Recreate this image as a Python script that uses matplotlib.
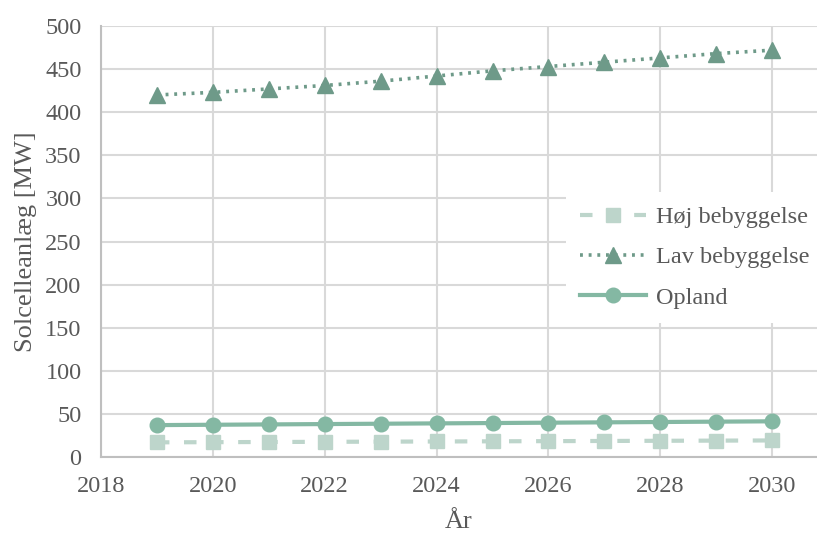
import matplotlib
matplotlib.use("Agg")
import matplotlib.pyplot as plt

years = [2019, 2020, 2021, 2022, 2023, 2024, 2025, 2026, 2027, 2028, 2029, 2030]
hoej = [17, 17.2, 17.4, 17.6, 17.8, 18.0, 18.2, 18.4, 18.6, 18.8, 19.0, 19.2]
lav = [420, 423, 427, 431, 436, 442, 448, 453, 458, 463, 468, 472]
opland = [37, 37.4, 37.8, 38.2, 38.6, 39.0, 39.4, 39.8, 40.2, 40.6, 41.0, 41.4]

x_ticks = [2018, 2020, 2022, 2024, 2026, 2028, 2030]
y_ticks = list(range(0, 501, 50))

text_color = "#595959"
grid_color = "#d9d9d9"

plt.rcParams["font.family"] = ["Liberation Serif", "DejaVu Serif"]

fig = plt.figure(figsize=(8.17, 5.34), dpi=100)
ax = fig.add_axes([0.1236, 0.1442, 0.8764, 0.8071])

ax.plot(years, hoej, color="#bdd5cb", linestyle=(0, (3.0, 3.5)), linewidth=3,
        marker="s", markersize=10.5, label="Høj bebyggelse", zorder=3)
ax.plot(years, lav, color="#6e9a89", linestyle=(0, (0.8, 1.6)), linewidth=2.6,
        marker="^", markersize=12, label="Lav bebyggelse", zorder=3)
ax.plot(years, opland, color="#84b8a3", linestyle="-", linewidth=3,
        marker="o", markersize=10.5, label="Opland", zorder=3)

ax.set_xlim(2018, 2030.8)
ax.set_ylim(0, 500)
ax.set_xticks(x_ticks)
ax.set_yticks(y_ticks)
ax.grid(True, color=grid_color, linewidth=1.5)
ax.set_axisbelow(True)

for side in ["top", "right"]:
    ax.spines[side].set_visible(False)
for side in ["left", "bottom"]:
    ax.spines[side].set_color("#bfbfbf")
    ax.spines[side].set_linewidth(1.5)

ax.tick_params(axis="both", length=0, labelsize=17.5, colors=text_color)
ax.tick_params(axis="y", pad=14)
ax.tick_params(axis="x", pad=14)

ax.set_xlabel("År", fontsize=19, color=text_color, labelpad=10)
ax.set_ylabel("Solcelleanlæg [MW]", fontsize=19, color=text_color, labelpad=6)

leg = ax.legend(loc="center left", bbox_to_anchor=(0.632, 0.463), frameon=True,
                fontsize=17.5, labelspacing=0.75, handlelength=2.7,
                handletextpad=0.4, borderpad=0.6)
leg.get_frame().set_facecolor("white")
leg.get_frame().set_edgecolor("none")
leg.get_frame().set_alpha(1.0)
for t in leg.get_texts():
    t.set_color(text_color)

fig.savefig("out.png", dpi=100)
